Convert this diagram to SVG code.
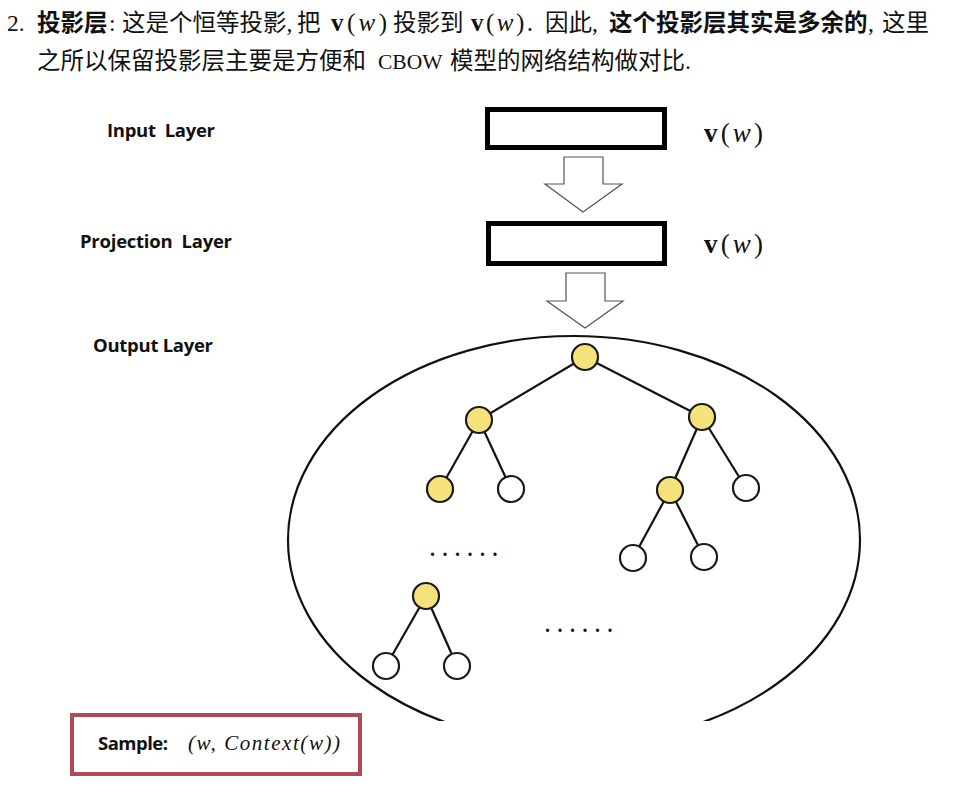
<svg xmlns="http://www.w3.org/2000/svg" width="964" height="811" viewBox="0 0 964 811">
<style>
.cj{font-family:"Liberation Serif","Noto Sans CJK SC",serif;font-size:23.5px;fill:#111}
.cjb{font-family:"Liberation Sans","Noto Sans CJK SC",sans-serif;font-size:23.5px;font-weight:bold;fill:#111}
.lbl{font-family:"Open Sans","Liberation Sans",sans-serif;font-size:18.5px;font-weight:bold;fill:#111}
.m{font-family:"Liberation Serif",serif;fill:#111}
.mb{font-weight:bold;font-style:normal}
.mi{font-style:italic}
.box{fill:#fff;stroke:#000;stroke-width:5}
.barrow{fill:#fff;stroke:#555;stroke-width:1.2}
.edge{stroke:#111;stroke-width:2.2;fill:none}
.ny{fill:#f6e27b;stroke:#1a1a1a;stroke-width:2.2}
.nw{fill:#fff;stroke:#1a1a1a;stroke-width:2.2}
.dots{font-family:"Liberation Serif",serif;font-size:20px;letter-spacing:7.5px;fill:#111;font-weight:bold}
</style>
<defs>
<clipPath id="clipE"><rect x="0" y="0" width="964" height="721"/></clipPath>
</defs>
<rect width="964" height="811" fill="#fff"/>

<g id="caption">
<text class="cj" x="7" y="31">2.</text>
<text class="cjb" x="37" y="31">投影层</text>
<text class="cj" x="109" y="31">:</text>
<text class="cj" x="122" y="31">这是个恒等投影,</text>
<text class="cj" x="297" y="31">把</text>
<text class="m" x="331" y="31" font-size="25" textLength="56"><tspan class="mb">v</tspan>(<tspan class="mi">w</tspan>)</text>
<text class="cj" x="393" y="31">投影到</text>
<text class="m" x="471" y="31" font-size="25" textLength="62"><tspan class="mb">v</tspan>(<tspan class="mi">w</tspan>).</text>
<text class="cj" x="545" y="31">因此,</text>
<text class="cjb" x="609" y="31">这个投影层其实是多余的</text>
<text class="cj" x="868" y="31">,</text>
<text class="cj" x="882" y="31">这里</text>
<text class="cj" x="37" y="69">之所以保留投影层主要是方便和</text>
<text class="m" x="378" y="69" font-size="21.5">CBOW</text>
<text class="cj" x="450" y="69">模型的网络结构做对比.</text>
</g>

<g id="labels">
<text class="lbl" x="107" y="137" textLength="108" xml:space="preserve">Input  Layer</text>
<text class="lbl" x="80" y="248" textLength="152" xml:space="preserve">Projection  Layer</text>
<text class="lbl" x="93" y="352" textLength="120">Output Layer</text>
</g>

<g id="input-layer">
<rect class="box" x="487.5" y="109.5" width="177" height="38"/>
<text class="m" x="704" y="142" font-size="27" textLength="59"><tspan class="mb">v</tspan>(<tspan class="mi">w</tspan>)</text>
</g>

<g id="projection-layer">
<rect class="box" x="488.5" y="223.5" width="176" height="40"/>
<text class="m" x="704" y="253" font-size="27" textLength="59"><tspan class="mb">v</tspan>(<tspan class="mi">w</tspan>)</text>
</g>

<g id="connectors">
<polygon class="barrow" points="564,157 603,157 603,184 622,184 583,212 545,184 564,184"/>
<polygon class="barrow" points="566,273 605,273 605,301 623,301 585,328 547,301 566,301"/>
<line class="edge" x1="585" y1="357" x2="479" y2="420"/>
<line class="edge" x1="585" y1="357" x2="702" y2="417"/>
<line class="edge" x1="479" y1="420" x2="440" y2="489"/>
<line class="edge" x1="479" y1="420" x2="511" y2="489"/>
<line class="edge" x1="702" y1="417" x2="670" y2="490"/>
<line class="edge" x1="702" y1="417" x2="746" y2="488"/>
<line class="edge" x1="670" y1="490" x2="633" y2="558"/>
<line class="edge" x1="670" y1="490" x2="704" y2="557"/>
<line class="edge" x1="426" y1="596" x2="386" y2="666"/>
<line class="edge" x1="426" y1="596" x2="457" y2="666"/>
</g>

<g id="output-layer">
<ellipse cx="574" cy="540" rx="286" ry="204" fill="none" stroke="#111" stroke-width="2.2" clip-path="url(#clipE)"/>
<text class="dots" x="430" y="556">......</text>
<text class="dots" x="545" y="632">......</text>
</g>

<g id="n-root"><circle class="ny" cx="585" cy="357" r="13"/></g>
<g id="n-l"><circle class="ny" cx="479" cy="420" r="13"/></g>
<g id="n-r"><circle class="ny" cx="702" cy="417" r="13"/></g>
<g id="n-ll"><circle class="ny" cx="440" cy="489" r="13"/></g>
<g id="n-lr"><circle class="nw" cx="511" cy="489" r="13"/></g>
<g id="n-rl"><circle class="ny" cx="670" cy="490" r="13"/></g>
<g id="n-rr"><circle class="nw" cx="746" cy="488" r="13"/></g>
<g id="n-rll"><circle class="nw" cx="633" cy="558" r="13"/></g>
<g id="n-rlr"><circle class="nw" cx="704" cy="557" r="13"/></g>
<g id="n-x"><circle class="ny" cx="426" cy="596" r="13"/></g>
<g id="n-xl"><circle class="nw" cx="386" cy="666" r="13"/></g>
<g id="n-xr"><circle class="nw" cx="457" cy="666" r="13"/></g>

<g id="sample">
<rect x="72" y="715" width="288" height="59" fill="#fff" stroke="#b24a56" stroke-width="4"/>
<text class="lbl" x="98" y="750" textLength="70">Sample:</text>
<text class="m mi" x="188" y="750" font-size="21" textLength="152">(w, Context(w))</text>
</g>
</svg>
